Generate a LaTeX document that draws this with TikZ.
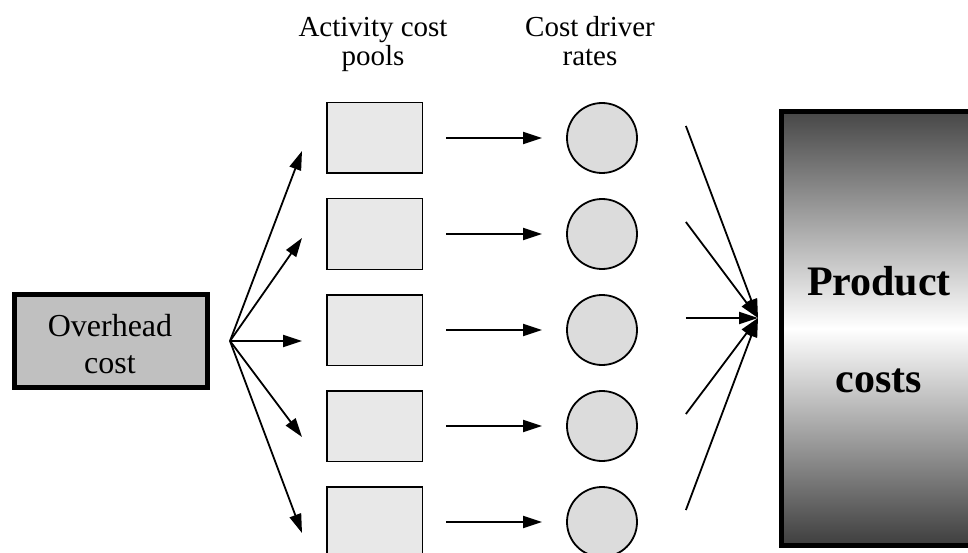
\documentclass[tikz,border=0pt]{standalone}
\usepackage{fontspec}
\setmainfont{Liberation Serif}
\usetikzlibrary{arrows.meta,calc}

\tikzset{
  arr/.style={line width=1.8pt, -{Triangle[length=19pt,width=12pt]}},
  pool/.style={draw, line width=1.5pt, fill=poolgray, rectangle,
    minimum width=95.5pt, minimum height=70.5pt, inner sep=0pt},
  rate/.style={draw, line width=1.8pt, fill=rategray, circle,
    minimum size=70pt, inner sep=0pt},
  headtext/.style={anchor=base, inner sep=0pt, font=\fontsize{29}{29}\selectfont},
}
\definecolor{poolgray}{HTML}{E8E8E8}
\definecolor{rategray}{HTML}{DCDCDC}
\definecolor{ovgray}{HTML}{C0C0C0}
\definecolor{topdark}{HTML}{474747}
\definecolor{botdark}{HTML}{3E3E3E}

\begin{document}
\begin{tikzpicture}[x=1pt, y=-1pt]
  \useasboundingbox (0,0) rectangle (968,553);

  % column headings
  \node[headtext] (h1a) at (373,37) {Activity cost};
  \node[headtext] (h1b) at (373,66) {pools};
  \node[headtext] (h2a) at (590,37) {Cost driver};
  \node[headtext] (h2b) at (590,66) {rates};

  % overhead source box
  \node[draw, line width=5pt, fill=ovgray, minimum width=193pt,
        minimum height=93pt, inner sep=0pt] (over) at (111,341) {};
  \node[anchor=base, inner sep=0pt, font=\fontsize{32}{37}\selectfont] (ov1) at (110,336) {Overhead};
  \node[anchor=base, inner sep=0pt, font=\fontsize{32}{37}\selectfont] (ov2) at (110,373) {cost};

  % product cost box (runs past the right edge)
  \node[draw, line width=5pt, minimum width=208.5pt, minimum height=434pt,
        inner sep=0pt, top color=topdark, bottom color=botdark,
        middle color=white] (prod) at (885.75,328.5) {};
  \node[anchor=base, inner sep=0pt, font=\fontsize{42}{42}\selectfont\bfseries] (pr1) at (879,295) {Product};
  \node[anchor=base, inner sep=0pt, font=\fontsize{42}{42}\selectfont\bfseries] (pr2) at (879,392) {costs};

  % fan hubs
  \coordinate (hubL) at (230,341);
  \coordinate (hubR) at (758,318);

  % rows: pools, rates and their connectors
  \foreach \i/\y/\t in {1/138/151, 2/234/238, 3/330/341, 4/426/437, 5/522/533} {
    \node[pool] (p\i) at (374.5,\y) {};
    \node[rate] (r\i) at (602,\y) {};
    \coordinate (in\i) at (302,\t);
    \draw[arr] (hubL) -- (in\i);
    \draw[arr, shorten <=23pt, shorten >=24pt] (p\i.east) -- (r\i.west);
  }
  \foreach \i in {1,...,5} {
    \draw[arr] ($(r\i.east)+(48,-12)$) -- (hubR);
  }
\end{tikzpicture}
\end{document}
